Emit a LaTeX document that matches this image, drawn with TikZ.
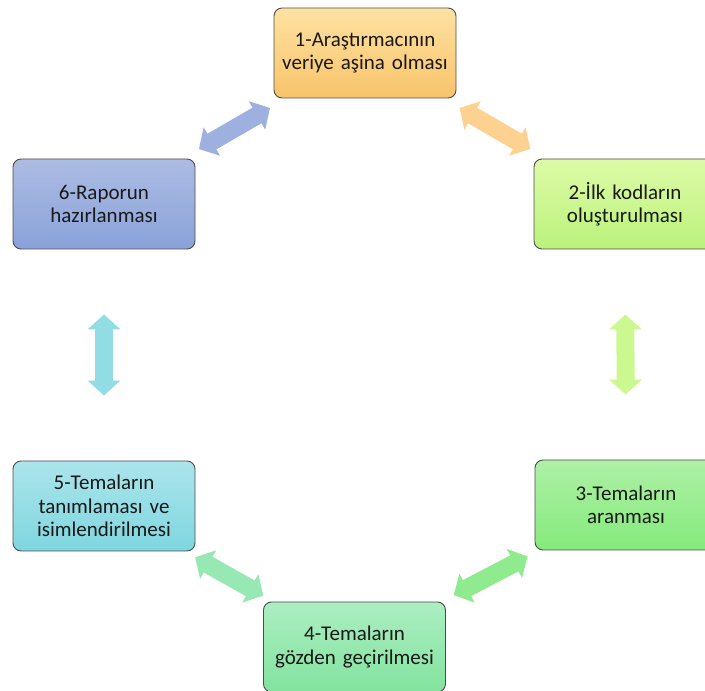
\documentclass[tikz,border=0pt]{standalone}
\usepackage{fontspec}
\setmainfont{Carlito}
\usetikzlibrary{arrows.meta}

\definecolor{oTop}{HTML}{FEE2A2}\definecolor{oBot}{HTML}{F8C36A}
\definecolor{yTop}{HTML}{DEFBA8}\definecolor{yBot}{HTML}{BAF27B}
\definecolor{gTop}{HTML}{AFF0A6}\definecolor{gBot}{HTML}{84EA7B}
\definecolor{mTop}{HTML}{ACEEC2}\definecolor{mBot}{HTML}{82E39E}
\definecolor{tTop}{HTML}{ABE5EB}\definecolor{tBot}{HTML}{7FD6DF}
\definecolor{bTop}{HTML}{ACBCE3}\definecolor{bBot}{HTML}{8AA2DA}
\definecolor{aOrange}{HTML}{FDD290}
\definecolor{aLime}{HTML}{CCF98F}
\definecolor{aBlue}{HTML}{9DB0DF}
\definecolor{aTeal}{HTML}{92DCE3}
\definecolor{aMint}{HTML}{97E8B3}
\definecolor{aGreen}{HTML}{90EB8E}

\tikzset{
  stage/.style={draw=black!70, line width=0.9pt, rounded corners=8pt,
    minimum width=182pt, minimum height=90pt, inner sep=0pt,
    text width=175pt, align=center, text=black!90,
    font=\fontsize{21}{23.5}\selectfont},
  link/.style={line width=18pt,
    {Triangle[width=32pt,length=15pt]}-{Triangle[width=32pt,length=15pt]}}
}

\begin{document}
\begin{tikzpicture}[x=1pt,y=1pt]
\useasboundingbox (0,0) rectangle (705,691);

\node[stage, top color=oTop, bottom color=oBot] (b1) at (365,638)
  {1-Araştırmacının\\veriye aşina olması};
\node[stage, top color=yTop, bottom color=yBot] (b2) at (625,487)
  {2-İlk kodların\\oluşturulması};
\node[stage, top color=gTop, bottom color=gBot] (b3) at (626,186)
  {3-Temaların\\aranması};
\node[stage, top color=mTop, bottom color=mBot] (b4) at (354.5,44)
  {4-Temaların\\gözden geçirilmesi};
\node[stage, top color=tTop, bottom color=tBot] (b5) at (104,185)
  {5-Temaların\\tanımlaması ve\\isimlendirilmesi};
\node[stage, top color=bTop, bottom color=bBot] (b6) at (104,487)
  {6-Raporun\\hazırlanması};

\draw[link, aOrange, shorten <=19pt, shorten >=19pt] (b1) -- (b2);
\draw[link, aLime, shorten <=65pt, shorten >=65pt] (b2) -- (b3);
\draw[link, aGreen, shorten <=13pt, shorten >=14pt] (b3) -- (b4);
\draw[link, aMint, shorten <=12pt, shorten >=12pt] (b4) -- (b5);
\draw[link, aTeal, shorten <=65pt, shorten >=65pt] (b5) -- (b6);
\draw[link, aBlue, shorten <=19pt, shorten >=19pt] (b6) -- (b1);
\end{tikzpicture}
\end{document}
